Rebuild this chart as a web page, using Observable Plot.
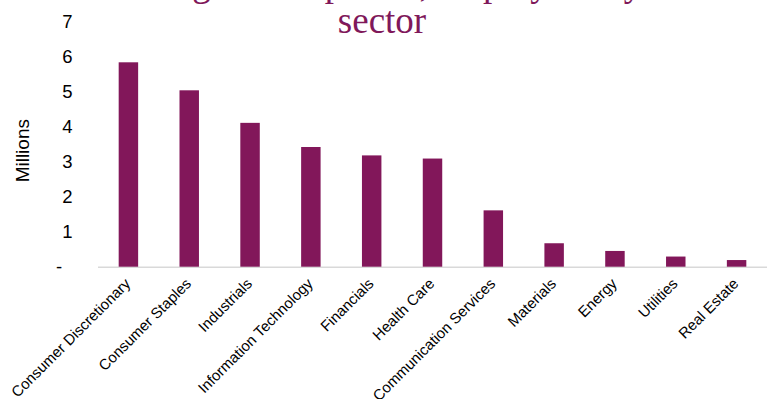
<!DOCTYPE html>
<html>
<head>
<meta charset="utf-8">
<script src="https://cdn.jsdelivr.net/npm/d3@7"></script>
<script src="https://cdn.jsdelivr.net/npm/@observablehq/plot@0.6"></script>
<style>
  html, body { margin: 0; padding: 0; background: #ffffff; overflow: hidden; }
  #wrap { position: relative; width: 771px; height: 399px; overflow: hidden; }
  .title { position: absolute; width: 600px; text-align: center; font-family: "Liberation Serif", "Times New Roman", serif;
           font-size: 37px; line-height: 37px; color: #80185a; white-space: nowrap; }
  #chart { position: absolute; left: 0; top: 0; }
</style>
</head>
<body>
<div id="wrap">
  <div id="chart"></div>
  <div class="title" style="left:92px; top:-35px;">Largest companies, employees by</div>
  <div class="title" style="left:82px; top:2px;">sector</div>
</div>
<script>
const sectors = [
  "Consumer Discretionary", "Consumer Staples", "Industrials", "Information Technology",
  "Financials", "Health Care", "Communication Services", "Materials", "Energy",
  "Utilities", "Real Estate"
];
const employeesMillions = [5.84, 5.04, 4.11, 3.42, 3.18, 3.09, 1.61, 0.67, 0.45, 0.29, 0.19];
const yTicks = [0, 1, 2, 3, 4, 5, 6, 7];
const yAxisLabel = "Millions";

const data = sectors.map((s, i) => ({sector: s, value: employeesMillions[i]}));
const font = "'Liberation Sans', Arial, Helvetica, sans-serif";

const chart = Plot.plot({
  width: 771,
  height: 399,
  marginLeft: 98,
  marginRight: 4,
  marginTop: 21.7,
  marginBottom: 132.3,
  style: {fontFamily: font, color: "#000", background: "transparent"},
  x: {domain: sectors, paddingInner: 0.68, paddingOuter: 0.34, round: false, label: null},
  y: {domain: [0, 7], label: null},
  marks: [
    Plot.ruleY([0], {stroke: "#d9d9d9", strokeWidth: 1.5}),
    Plot.barY(data, {x: "sector", y: "value", fill: "#82175a"}),
    Plot.axisY({
      ticks: yTicks, tickSize: 0, tickPadding: 26, fontSize: 18.5, label: null,
      tickFormat: d => d === 0 ? "-\u00a0\u00a0" : String(d)
    }),
    Plot.axisX({
      tickSize: 0, tickRotate: -45, tickPadding: 14, dx: -1, fontSize: 15, label: null
    }),
    Plot.text([yAxisLabel], {
      text: d => d, frameAnchor: "left", textAnchor: "middle", dx: -75.5, dy: 6, rotate: -90,
      fontSize: 19, fill: "#000"
    })
  ]
});
document.getElementById("chart").appendChild(chart);
</script>
</body>
</html>
